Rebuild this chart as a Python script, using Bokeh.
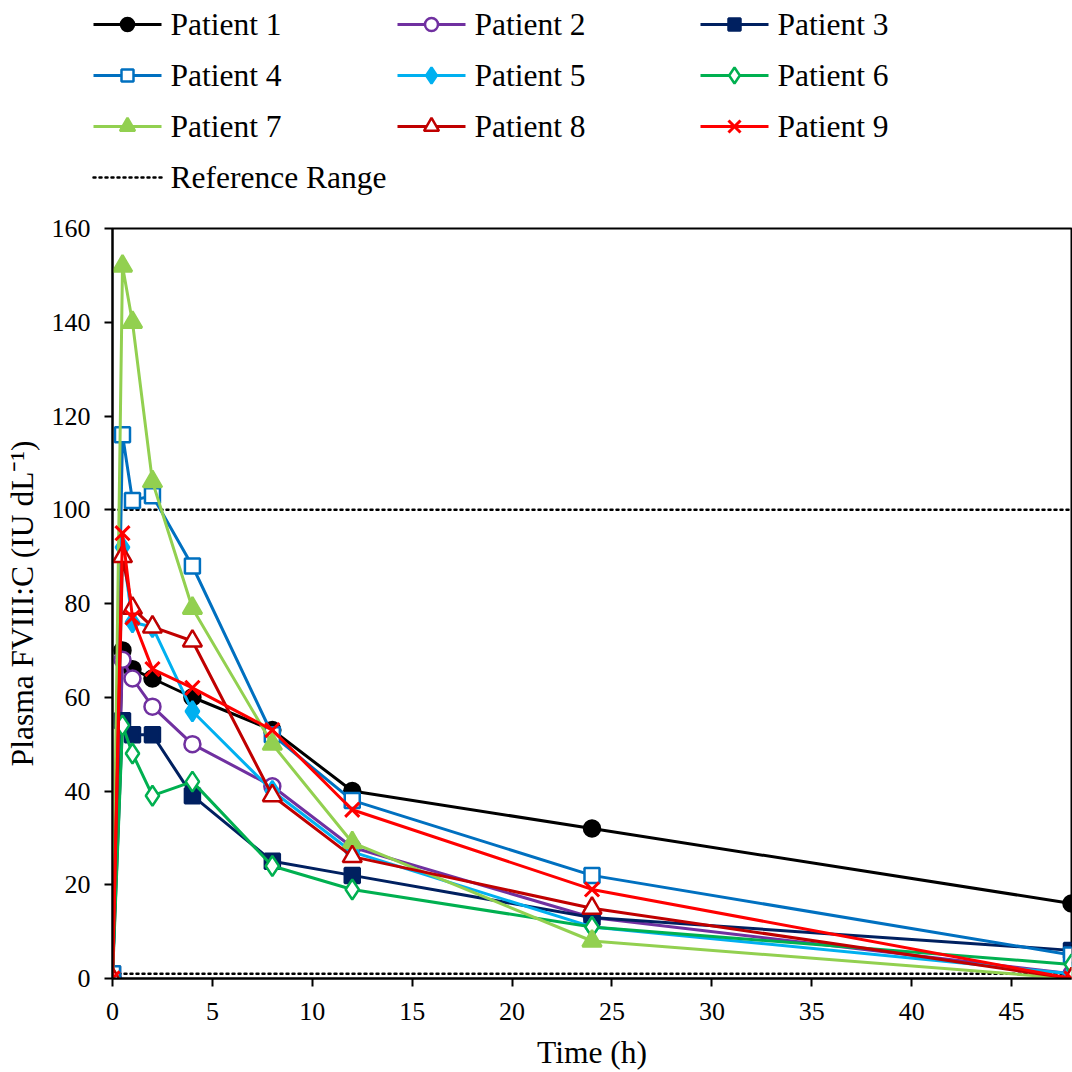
from bokeh.plotting import figure
from bokeh.models import Range1d, FixedTicker, ColumnDataSource
from bokeh.layouts import column
from bokeh.core.properties import value
from bokeh.embed import file_html
from bokeh.resources import INLINE

# ---- data ----
time_h = [0, 0.5, 1, 2, 4, 8, 12, 24, 48]
patient_1 = [0, 70, 66, 64, 60, 53, 40, 32, 16]
patient_2 = [0, 68, 64, 58, 50, 41, 28, 13, 1]
patient_3 = [1, 55, 52, 52, 39, 25, 22, 13, 6]
patient_4 = [1, 116, 102, 103, 88, 52, 38, 22, 5]
patient_5 = [0, 92, 76, 75, 57, 40, 27, 11, 1]
patient_6 = [0, 54, 48, 39, 42, 24, 19, 11, 3]
patient_7 = [0, 152, 140, 106, 79, 50, 29, 8, 0]
patient_8 = [0, 90, 79, 75, 72, 39, 26, 15, 0]
patient_9 = [0, 95, 77, 66, 62, 53, 36, 19, 0]
series_names = ["Patient 1", "Patient 2", "Patient 3", "Patient 4", "Patient 5",
                "Patient 6", "Patient 7", "Patient 8", "Patient 9"]
series_values = [patient_1, patient_2, patient_3, patient_4, patient_5,
                 patient_6, patient_7, patient_8, patient_9]
reference_label = "Reference Range"
reference_range = [1, 100]
reference_x = [0, 48]
x_ticks = [0, 5, 10, 15, 20, 25, 30, 35, 40, 45]
y_ticks = [0, 20, 40, 60, 80, 100, 120, 140, 160]

# ---- styles ----
colors = ["#000000", "#7030A0", "#002060", "#0070C0", "#00B0F0",
          "#00B050", "#92D050", "#C00000", "#FF0000"]
markers = ["circle", "circle", "square", "square", "diamond",
           "diamond", "triangle", "triangle", "x"]
filled = [True, False, True, False, True, False, True, False, True]
sizes = [16, 16, 15, 15, 20, 20, 19, 19, 20]
legend_sizes = [13, 13, 12, 12, 16, 16, 15, 15, 17]

FONT = "Liberation Serif"
REF_DASH = "2 4"
BIG = "31.5px"

# ---- legend panel (separate figure above the plot, pixel coordinates) ----
LEG_H = 215
leg = figure(width=1072, height=LEG_H, output_backend="svg", toolbar_location=None,
             x_range=Range1d(0, 1072), y_range=Range1d(LEG_H, 0),
             x_axis_type=None, y_axis_type=None,
             min_border=0, min_border_left=0, min_border_right=0,
             min_border_top=0, min_border_bottom=0)
leg.frame_align = False
leg.grid.visible = False
leg.outline_line_color = None
leg.background_fill_color = "white"
leg.border_fill_color = "white"

col_x = [93, 397, 700]
row_y = [24, 75, 126, 177]
glyph_len = 68
text_gap = 9

for i, (name, c, m, f, s) in enumerate(zip(series_names, colors, markers, filled, legend_sizes)):
    x0 = col_x[i % 3]
    y0 = row_y[i // 3]
    leg.line([x0, x0 + glyph_len], [y0, y0], line_color=c, line_width=3)
    leg.scatter([x0 + glyph_len / 2], [y0], marker=m, size=s, line_color=c,
                line_width=3 if m == "x" else 2.5, fill_color=c if f else "white")
    leg.text([x0 + glyph_len + text_gap], [y0], text=[name], text_font=value(FONT),
             text_font_size=BIG, text_baseline="middle", text_align="left",
             text_color="black")

x0, y0 = col_x[0], row_y[3]
leg.line([x0, x0 + glyph_len], [y0, y0], line_color="black", line_width=2.5,
         line_dash=REF_DASH, line_cap="round")
leg.text([x0 + glyph_len + text_gap], [y0], text=[reference_label], text_font=value(FONT),
         text_font_size=BIG, text_baseline="middle", text_align="left",
         text_color="black")

# ---- main plot ----
p = figure(width=1072, height=1072 - LEG_H, output_backend="svg", toolbar_location=None,
           x_range=Range1d(0, 48), y_range=Range1d(0, 160),
           min_border_left=112, min_border_right=1, min_border_top=13,
           min_border_bottom=94)
p.frame_align = False
p.grid.visible = False
p.outline_line_color = "black"
p.outline_line_width = 2
p.background_fill_color = "white"
p.border_fill_color = "white"

for ax in (p.xaxis[0], p.yaxis[0]):
    ax.axis_line_width = 2
    ax.major_tick_line_width = 2
    ax.major_tick_out = 8
    ax.major_tick_in = 0
    ax.minor_tick_line_color = None
    ax.major_label_text_font = FONT
    ax.major_label_text_font_size = "26px"
    ax.major_label_text_color = "black"
    ax.axis_label_text_font = FONT
    ax.axis_label_text_font_size = BIG
    ax.axis_label_text_font_style = "normal"
    ax.axis_label_text_color = "black"

p.xaxis.ticker = FixedTicker(ticks=x_ticks)
p.yaxis.ticker = FixedTicker(ticks=y_ticks)
p.xaxis.axis_label = "Time (h)"
p.yaxis.axis_label = "Plasma FVIII:C (IU dL\u207b\u00b9)"
p.yaxis.major_label_standoff = 14
p.yaxis.axis_label_standoff = 9
p.xaxis.major_label_standoff = 16
p.xaxis.axis_label_standoff = 12

for rv in reference_range:
    p.line(reference_x, [rv, rv], line_color="black", line_width=2.5,
           line_dash=REF_DASH, line_cap="round")

for name, vals, c, m, f, s in zip(series_names, series_values, colors, markers, filled, sizes):
    src = ColumnDataSource(dict(t=time_h, v=vals))
    p.line("t", "v", source=src, line_color=c, line_width=3)
    p.scatter("t", "v", source=src, marker=m, size=s, line_color=c,
              line_width=3 if m == "x" else 2.5, fill_color=c if f else "white")

layout = column(leg, p, spacing=0)
open("out.html", "w").write(file_html(layout, INLINE))
